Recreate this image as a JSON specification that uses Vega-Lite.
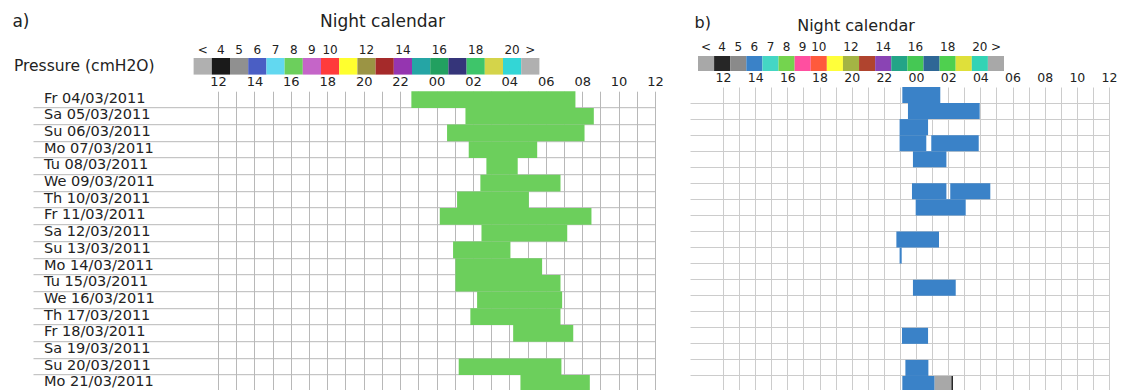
{
  "$schema": "https://vega.github.io/schema/vega-lite/v6.json",
  "background": "white",
  "padding": {"left": 12, "top": 13, "right": 0, "bottom": 0},
  "config": {
    "font": "DejaVu Sans",
    "view": {"stroke": null},
    "title": {"font": "DejaVu Sans", "fontWeight": "normal", "color": "#222222"},
    "axis": {"labelFont": "DejaVu Sans", "labelColor": "#222222"}
  },
  "datasets": {
    "levels": [
      {"level": "<4", "var": "Pressure (cmH2O)"}, {"level": "4", "var": "Pressure (cmH2O)"},
      {"level": "5", "var": "Pressure (cmH2O)"}, {"level": "6", "var": "Pressure (cmH2O)"},
      {"level": "7", "var": "Pressure (cmH2O)"}, {"level": "8", "var": "Pressure (cmH2O)"},
      {"level": "9", "var": "Pressure (cmH2O)"}, {"level": "10", "var": "Pressure (cmH2O)"},
      {"level": "11", "var": "Pressure (cmH2O)"}, {"level": "12", "var": "Pressure (cmH2O)"},
      {"level": "13", "var": "Pressure (cmH2O)"}, {"level": "14", "var": "Pressure (cmH2O)"},
      {"level": "15", "var": "Pressure (cmH2O)"}, {"level": "16", "var": "Pressure (cmH2O)"},
      {"level": "17", "var": "Pressure (cmH2O)"}, {"level": "18", "var": "Pressure (cmH2O)"},
      {"level": "19", "var": "Pressure (cmH2O)"}, {"level": "20", "var": "Pressure (cmH2O)"},
      {"level": ">20", "var": "Pressure (cmH2O)"}
    ],
    "nightsA": [
      {"date": "Fr 04/03/2011", "start": 22.62, "end": 31.63, "level": "8"},
      {"date": "Sa 05/03/2011", "start": 25.59, "end": 32.64, "level": "8"},
      {"date": "Su 06/03/2011", "start": 24.58, "end": 32.13, "level": "8"},
      {"date": "Mo 07/03/2011", "start": 25.77, "end": 29.53, "level": "8"},
      {"date": "Tu 08/03/2011", "start": 26.74, "end": 28.46, "level": "8"},
      {"date": "We 09/03/2011", "start": 26.41, "end": 30.81, "level": "8"},
      {"date": "Th 10/03/2011", "start": 25.13, "end": 29.07, "level": "8"},
      {"date": "Fr 11/03/2011", "start": 24.18, "end": 32.51, "level": "8"},
      {"date": "Sa 12/03/2011", "start": 26.47, "end": 31.18, "level": "8"},
      {"date": "Su 13/03/2011", "start": 24.91, "end": 28.06, "level": "8"},
      {"date": "Mo 14/03/2011", "start": 25.04, "end": 29.8, "level": "8"},
      {"date": "Tu 15/03/2011", "start": 25.04, "end": 30.81, "level": "8"},
      {"date": "We 16/03/2011", "start": 26.23, "end": 30.9, "level": "8"},
      {"date": "Th 17/03/2011", "start": 25.86, "end": 30.81, "level": "8"},
      {"date": "Fr 18/03/2011", "start": 28.21, "end": 31.51, "level": "8"},
      {"date": "Su 20/03/2011", "start": 25.22, "end": 30.86, "level": "8"},
      {"date": "Mo 21/03/2011", "start": 28.61, "end": 32.42, "level": "8"}
    ],
    "nightsB": [
      {"night": 1, "start": 23.15, "end": 25.51, "level": "6"},
      {"night": 2, "start": 23.5, "end": 27.96, "level": "6"},
      {"night": 3, "start": 22.98, "end": 24.75, "level": "6"},
      {"night": 4, "start": 22.98, "end": 24.64, "level": "6"},
      {"night": 4, "start": 24.95, "end": 27.9, "level": "6"},
      {"night": 5, "start": 23.81, "end": 25.89, "level": "6"},
      {"night": 7, "start": 23.75, "end": 25.89, "level": "6"},
      {"night": 7, "start": 26.13, "end": 28.62, "level": "6"},
      {"night": 8, "start": 23.98, "end": 27.09, "level": "6"},
      {"night": 10, "start": 22.78, "end": 25.43, "level": "6"},
      {"night": 11, "start": 22.98, "end": 23.11, "level": "6"},
      {"night": 13, "start": 23.81, "end": 26.47, "level": "6"},
      {"night": 16, "start": 23.13, "end": 24.75, "level": "6"},
      {"night": 18, "start": 23.34, "end": 24.77, "level": "6"},
      {"night": 19, "start": 23.15, "end": 25.16, "level": "6"},
      {"night": 19, "start": 25.16, "end": 26.2, "level": "<4"},
      {"night": 19, "start": 26.2, "end": 26.3, "level": "4"}
    ]
  },
  "resolve": {"scale": {"color": "independent"}},
  "spacing": 25,
  "hconcat": [
    {
      "title": {"text": "a)", "anchor": "start", "fontSize": 17, "offset": -18, "dx": -1},
      "bounds": "flush",
      "spacing": 16.2,
      "vconcat": [
        {
          "data": {"name": "levels"},
          "width": 437,
          "height": 16.6,
          "title": {"text": "Night calendar", "anchor": "middle", "frame": "group", "dx": -54, "fontSize": 17, "offset": 12},
          "mark": {"type": "rect"},
          "encoding": {
            "x": {
              "field": "level", "type": "nominal",
              "scale": {"domain": ["<4","4","5","6","7","8","9","10","11","12","13","14","15","16","17","18","19","20",">20"], "range": [-24.4, 321.4], "paddingInner": 0, "paddingOuter": 0},
              "axis": {"orient": "top", "title": null, "domain": false, "ticks": false, "labelPadding": 2, "labelFontSize": 12, "labelAngle": 0,
                "labelExpr": "datum.value == '<4' ? '<' : datum.value == '>20' ? '>' : indexof(['11','13','15','17','19'], datum.value) >= 0 ? '' : datum.value"}
            },
            "y": {"field": "var", "type": "nominal", "scale": {"paddingInner": 0, "paddingOuter": 0},
              "axis": {"title": null, "domain": false, "ticks": false, "labelPadding": 64, "labelFontSize": 15.5, "labelLimit": 0}},
            "color": {
              "field": "level", "type": "nominal", "legend": null,
              "scale": {
                "domain": ["<4","4","5","6","7","8","9","10","11","12","13","14","15","16","17","18","19","20",">20"],
                "range": ["#b0b0b0","#1a1a1a","#909090","#4a5ec4","#62d8f0","#6ccf5c","#c565c8","#ff3b3b","#ffff2e","#9b9444","#a52a2a","#9535b0","#25a5a5","#22a060","#35357a","#3ec56a","#d4d44a","#33d6d6","#b0b0b0"]
              }
            }
          }
        },
        {
          "data": {"name": "nightsA"},
          "width": 437,
          "height": 300.6,
          "mark": {"type": "bar"},
          "encoding": {
            "x": {
              "field": "start", "type": "quantitative",
              "scale": {"domain": [12, 36], "nice": false, "zero": false},
              "axis": {"orient": "top", "title": null, "values": [12,13,14,15,16,17,18,19,20,21,22,23,24,25,26,27,28,29,30,31,32,33,34,35,36],
                "grid": true, "gridColor": "#b8b8b8", "domain": false, "ticks": false, "labelPadding": 3, "labelFontSize": 13,
                "labelFlush": false, "labelOverlap": false,
                "labelExpr": "datum.value % 2 === 0 ? format(datum.value % 24, '02d') : ''"}
            },
            "x2": {"field": "end"},
            "y": {
              "field": "date", "type": "nominal",
              "scale": {"domain": ["Fr 04/03/2011","Sa 05/03/2011","Su 06/03/2011","Mo 07/03/2011","Tu 08/03/2011","We 09/03/2011","Th 10/03/2011","Fr 11/03/2011","Sa 12/03/2011","Su 13/03/2011","Mo 14/03/2011","Tu 15/03/2011","We 16/03/2011","Th 17/03/2011","Fr 18/03/2011","Sa 19/03/2011","Su 20/03/2011","Mo 21/03/2011"], "paddingInner": 0, "paddingOuter": 0},
              "axis": {"title": null, "domain": false, "bandPosition": 0, "grid": true, "gridColor": "#b8b8b8",
                "gridOpacity": {"condition": {"test": "datum.value === 'Fr 04/03/2011'", "value": 0}, "value": 1},
                "ticks": true, "tickSize": 185, "tickColor": "#b8b8b8",
                "tickOpacity": {"condition": {"test": "datum.value === 'Fr 04/03/2011'", "value": 0}, "value": 1},
                "labelAlign": "left", "labelPadding": -10.6, "labelFontSize": 14.5, "labelOffset": -1, "labelBaseline": "middle", "labelLimit": 0}
            },
            "color": {
              "field": "level", "type": "nominal", "legend": null,
              "scale": {
                "domain": ["<4","4","5","6","7","8","9","10","11","12","13","14","15","16","17","18","19","20",">20"],
                "range": ["#b0b0b0","#1a1a1a","#909090","#4a5ec4","#62d8f0","#6ccf5c","#c565c8","#ff3b3b","#ffff2e","#9b9444","#a52a2a","#9535b0","#25a5a5","#22a060","#35357a","#3ec56a","#d4d44a","#33d6d6","#b0b0b0"]
              }
            }
          }
        }
      ]
    },
    {
      "title": {"text": "b)", "anchor": "start", "fontSize": 16, "offset": -13, "dx": 5},
      "bounds": "flush",
      "spacing": 14,
      "vconcat": [
        {
          "data": {"name": "levels"},
          "width": 386,
          "height": 15,
          "title": {"text": "Night calendar", "anchor": "middle", "frame": "group", "dx": -60, "fontSize": 16, "offset": 6},
          "mark": {"type": "rect"},
          "encoding": {
            "x": {
              "field": "level", "type": "nominal",
              "scale": {"domain": ["<4","4","5","6","7","8","9","10","11","12","13","14","15","16","17","18","19","20",">20"], "range": [-25, 281], "paddingInner": 0, "paddingOuter": 0},
              "axis": {"orient": "top", "title": null, "domain": false, "ticks": false, "labelPadding": 5, "labelFontSize": 12, "labelAngle": 0,
                "labelExpr": "datum.value == '<4' ? '<' : datum.value == '>20' ? '>' : indexof(['11','13','15','17','19'], datum.value) >= 0 ? '' : datum.value"}
            },
            "y": {"field": "var", "type": "nominal", "scale": {"range": [-2, 13], "paddingInner": 0, "paddingOuter": 0}, "axis": null},
            "color": {
              "field": "level", "type": "nominal", "legend": null,
              "scale": {
                "domain": ["<4","4","5","6","7","8","9","10","11","12","13","14","15","16","17","18","19","20",">20"],
                "range": ["#a8a8a8","#262626","#8a8a8a","#3a82c8","#44d6c4","#74d44e","#ff4fa0","#ff5a3c","#ffff3a","#a4b444","#b0442e","#8a44b4","#23a487","#45c854","#2f6796","#4fd04f","#dfe03a","#33d3b5","#a8a8a8"]
              }
            }
          }
        },
        {
          "data": {"name": "nightsB"},
          "width": 386,
          "height": 305,
          "mark": {"type": "bar"},
          "encoding": {
            "x": {
              "field": "start", "type": "quantitative",
              "scale": {"domain": [12, 36], "nice": false, "zero": false},
              "axis": {"orient": "top", "title": null, "values": [12,13,14,15,16,17,18,19,20,21,22,23,24,25,26,27,28,29,30,31,32,33,34,35,36],
                "grid": true, "gridColor": "#cccccc", "domain": false, "ticks": false, "labelPadding": 3, "labelFontSize": 12.5,
                "labelFlush": false, "labelOverlap": false,
                "labelExpr": "datum.value % 2 === 0 ? format(datum.value % 24, '02d') : ''"}
            },
            "x2": {"field": "end"},
            "y": {
              "field": "night", "type": "ordinal",
              "scale": {"domain": [1,2,3,4,5,6,7,8,9,10,11,12,13,14,15,16,17,18,19], "paddingInner": 0, "paddingOuter": 0},
              "axis": {"title": null, "domain": false, "labels": false, "bandPosition": 0, "grid": true, "gridColor": "#cccccc",
                "gridOpacity": {"condition": {"test": "datum.value === 1", "value": 0}, "value": 1},
                "ticks": true, "tickSize": 33, "tickColor": "#cccccc",
                "tickOpacity": {"condition": {"test": "datum.value === 1", "value": 0}, "value": 1}}
            },
            "color": {
              "field": "level", "type": "nominal", "legend": null,
              "scale": {
                "domain": ["<4","4","5","6","7","8","9","10","11","12","13","14","15","16","17","18","19","20",">20"],
                "range": ["#aca3bb","#262626","#8a8a8a","#3a82c8","#44d6c4","#74d44e","#ff4fa0","#ff5a3c","#ffff3a","#a4b444","#b0442e","#8a44b4","#23a487","#45c854","#2f6796","#4fd04f","#dfe03a","#33d3b5","#a8a8a8"]
              }
            }
          }
        }
      ]
    }
  ]
}
